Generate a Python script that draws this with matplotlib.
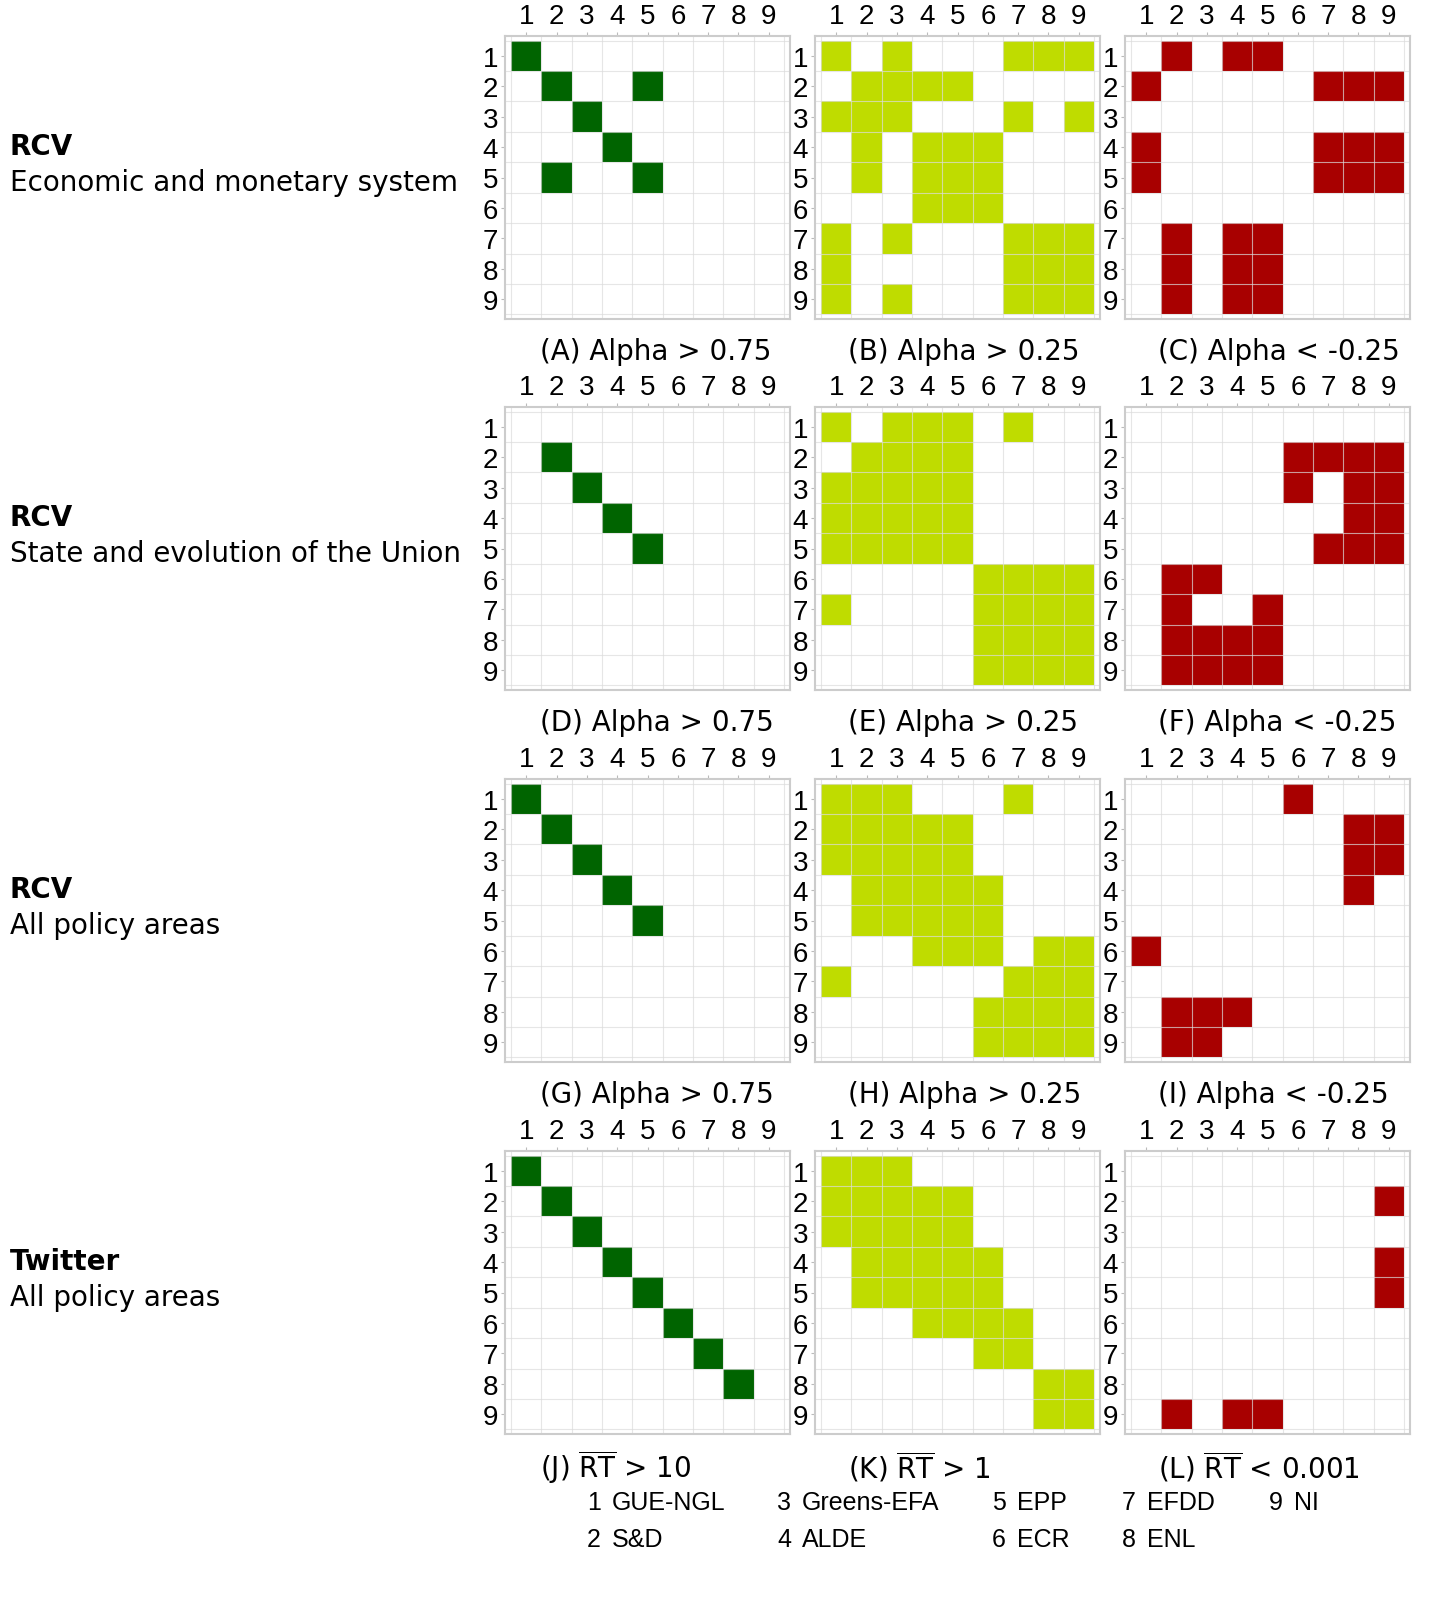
import numpy as np
import matplotlib.pyplot as plt
from matplotlib.colors import ListedColormap

# cell masks: one string per row (row 1..9), one char per column (1..9)
panel_a = ["100000000", "010010000", "001000000", "000100000", "010010000",
           "000000000", "000000000", "000000000", "000000000"]
panel_b = ["101000111", "011110000", "111000101", "010111000", "010111000",
           "000111000", "101000111", "100000111", "101000111"]
panel_c = ["010110000", "100000111", "000000000", "100000111", "100000111",
           "000000000", "010110000", "010110000", "010110000"]
panel_d = ["000000000", "010000000", "001000000", "000100000", "000010000",
           "000000000", "000000000", "000000000", "000000000"]
panel_e = ["101110100", "011110000", "111110000", "111110000", "111110000",
           "000001111", "100001111", "000001111", "000001111"]
panel_f = ["000000000", "000001111", "000001011", "000000011", "000000111",
           "011000000", "010010000", "011110000", "011110000"]
panel_g = ["100000000", "010000000", "001000000", "000100000", "000010000",
           "000000000", "000000000", "000000000", "000000000"]
panel_h = ["111000100", "111110000", "111110000", "011111000", "011111000",
           "000111011", "100000111", "000001111", "000001111"]
panel_i = ["000001000", "000000011", "000000011", "000000010", "000000000",
           "100000000", "000000000", "011100000", "011000000"]
panel_j = ["100000000", "010000000", "001000000", "000100000", "000010000",
           "000001000", "000000100", "000000010", "000000000"]
panel_k = ["111000000", "111110000", "111110000", "011111000", "011111000",
           "000111100", "000001100", "000000011", "000000011"]
panel_l = ["000000000", "000000001", "000000000", "000000001", "000000001",
           "000000000", "000000000", "000000000", "010110000"]

panels = [[panel_a, panel_b, panel_c],
          [panel_d, panel_e, panel_f],
          [panel_g, panel_h, panel_i],
          [panel_j, panel_k, panel_l]]

captions = [["(A) Alpha > 0.75", "(B) Alpha > 0.25", "(C) Alpha < -0.25"],
            ["(D) Alpha > 0.75", "(E) Alpha > 0.25", "(F) Alpha < -0.25"],
            ["(G) Alpha > 0.75", "(H) Alpha > 0.25", "(I) Alpha < -0.25"],
            [r"(J) $\overline{\mathrm{RT}}$ > 10", r"(K) $\overline{\mathrm{RT}}$ > 1",
             r"(L) $\overline{\mathrm{RT}}$ < 0.001"]]

row_heads = ["RCV", "RCV", "RCV", "Twitter"]
row_subs = ["Economic and monetary system", "State and evolution of the Union",
            "All policy areas", "All policy areas"]

party_ids = ["1", "2", "3", "4", "5", "6", "7", "8", "9"]
party_names = ["GUE-NGL", "S&D", "Greens-EFA", "ALDE", "EPP", "ECR", "EFDD", "ENL", "NI"]

colors = ["#006400", "#bfdc00", "#a80000"]

W, H = 1453, 1606
fig = plt.figure(figsize=(W / 100, H / 100), dpi=100)

col_left = [505, 815, 1125]
row_top = [37, 408, 780, 1152]
box_w, box_h = 285, 283
cap_x = [540, 848, 1158]
ticks = np.arange(1, 10)

for r in range(4):
    for c in range(3):
        ax = fig.add_axes([col_left[c] / W, 1 - (row_top[r] + box_h) / H,
                           box_w / W, box_h / H])
        mat = np.array([[int(ch) for ch in row] for row in panels[r][c]])
        masked = np.ma.masked_equal(mat, 0)
        ax.pcolormesh(np.arange(0.5, 10.5), np.arange(0.5, 10.5), masked,
                      cmap=ListedColormap([colors[c]]), vmin=0.5, vmax=1.5,
                      zorder=1)
        for v in np.arange(0.5, 10.5):
            ax.axvline(v, color="#dcdcdc", lw=0.8, zorder=2, alpha=0.7)
            ax.axhline(v, color="#dcdcdc", lw=0.8, zorder=2, alpha=0.7)
        ax.set_xlim(0.3, 9.7)
        ax.set_ylim(9.65, 0.35)
        ax.set_xticks(ticks)
        ax.set_yticks(ticks)
        ax.set_xticklabels([str(t) for t in ticks], family="Liberation Sans", fontsize=20)
        ax.set_yticklabels([str(t) for t in ticks], family="Liberation Sans", fontsize=20)
        ax.xaxis.tick_top()
        ax.tick_params(length=3, width=0.8, color="#bbbbbb", pad=2)
        for s in ax.spines.values():
            s.set_color("#cccccc")
            s.set_linewidth(1.5)
        fig.text(cap_x[c] / W, 1 - (row_top[r] + box_h + 32) / H, captions[r][c],
                 fontsize=20, ha="left", va="center", family="DejaVu Sans")

# row labels on the left
for r in range(4):
    y_mid = row_top[r] + 110
    fig.text(10 / W, 1 - y_mid / H, row_heads[r], fontsize=20, fontweight="bold",
             ha="left", va="center")
    fig.text(10 / W, 1 - (y_mid + 36) / H, row_subs[r], fontsize=20,
             ha="left", va="center")

# party legend
leg_x = [587, 777, 992, 1122, 1269]
leg_y = [1503, 1540]
for i, (pid, name) in enumerate(zip(party_ids, party_names)):
    x = leg_x[i // 2]
    y = leg_y[i % 2]
    fig.text(x / W, 1 - y / H, pid, fontsize=18, family="Liberation Sans",
             ha="left", va="center")
    fig.text((x + 25) / W, 1 - y / H, name, fontsize=18, family="Liberation Sans",
             ha="left", va="center")

fig.savefig("out.png", dpi=100)
